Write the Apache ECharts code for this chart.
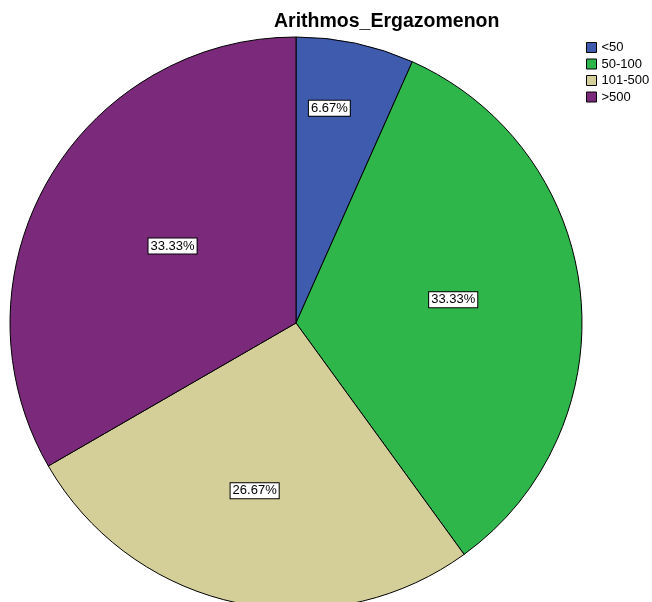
<!DOCTYPE html>
<html>
<head>
<meta charset="utf-8">
<script src="https://cdn.jsdelivr.net/npm/echarts@6/dist/echarts.min.js"></script>
<style>
  html, body { margin: 0; padding: 0; background: #ffffff; }
  #chart { width: 652px; height: 602px; }
</style>
</head>
<body>
<div id="chart"></div>
<script>
// Employee-count groups and their frequencies
const categories = ['<50', '50-100', '101-500', '>500'];
const counts = [1, 5, 4, 5];
const sliceColors = ['#3F5BAE', '#2FB64A', '#D4CF98', '#7B2A7B'];

// Nudges for the percentage boxes inside each slice
const labelShift = [[3, -72], [12, -8], [-11, 25], [3, -4]];

const total = counts.reduce((a, b) => a + b, 0);

const chart = echarts.init(document.getElementById('chart'));
chart.setOption({
  animation: false,
  backgroundColor: '#ffffff',
  title: {
    text: 'Arithmos_Ergazomenon',
    left: 269,
    top: 7,
    textStyle: { fontFamily: 'Liberation Sans, Arial, sans-serif', fontSize: 19.5, fontWeight: 'bold', color: '#000' }
  },
  legend: {
    orient: 'vertical',
    left: 586,
    top: 41,
    padding: 0,
    itemWidth: 10,
    itemHeight: 10,
    itemGap: 3.5,
    icon: 'rect',
    selectedMode: false,
    itemStyle: { borderColor: '#000', borderWidth: 1 },
    textStyle: { fontFamily: 'Liberation Sans, Arial, sans-serif', fontSize: 13, color: '#000' },
    data: categories
  },
  series: [{
    type: 'pie',
    center: [296, 323],
    radius: 286,
    startAngle: 90,
    clockwise: true,
    avoidLabelOverlap: false,
    itemStyle: { borderColor: '#000', borderWidth: 1 },
    label: {
      position: 'inside',
      formatter: p => (p.value / total * 100).toFixed(2) + '%',
      fontFamily: 'Liberation Sans, Arial, sans-serif',
      fontSize: 13,
      color: '#000',
      backgroundColor: '#fff',
      borderColor: '#000',
      borderWidth: 1,
      padding: [2, 2, 0, 2]
    },
    labelLayout: p => ({ dx: labelShift[p.dataIndex][0], dy: labelShift[p.dataIndex][1] }),
    emphasis: { disabled: true },
    data: categories.map((c, i) => ({ name: c, value: counts[i], itemStyle: { color: sliceColors[i] } }))
  }]
});
</script>
</body>
</html>
